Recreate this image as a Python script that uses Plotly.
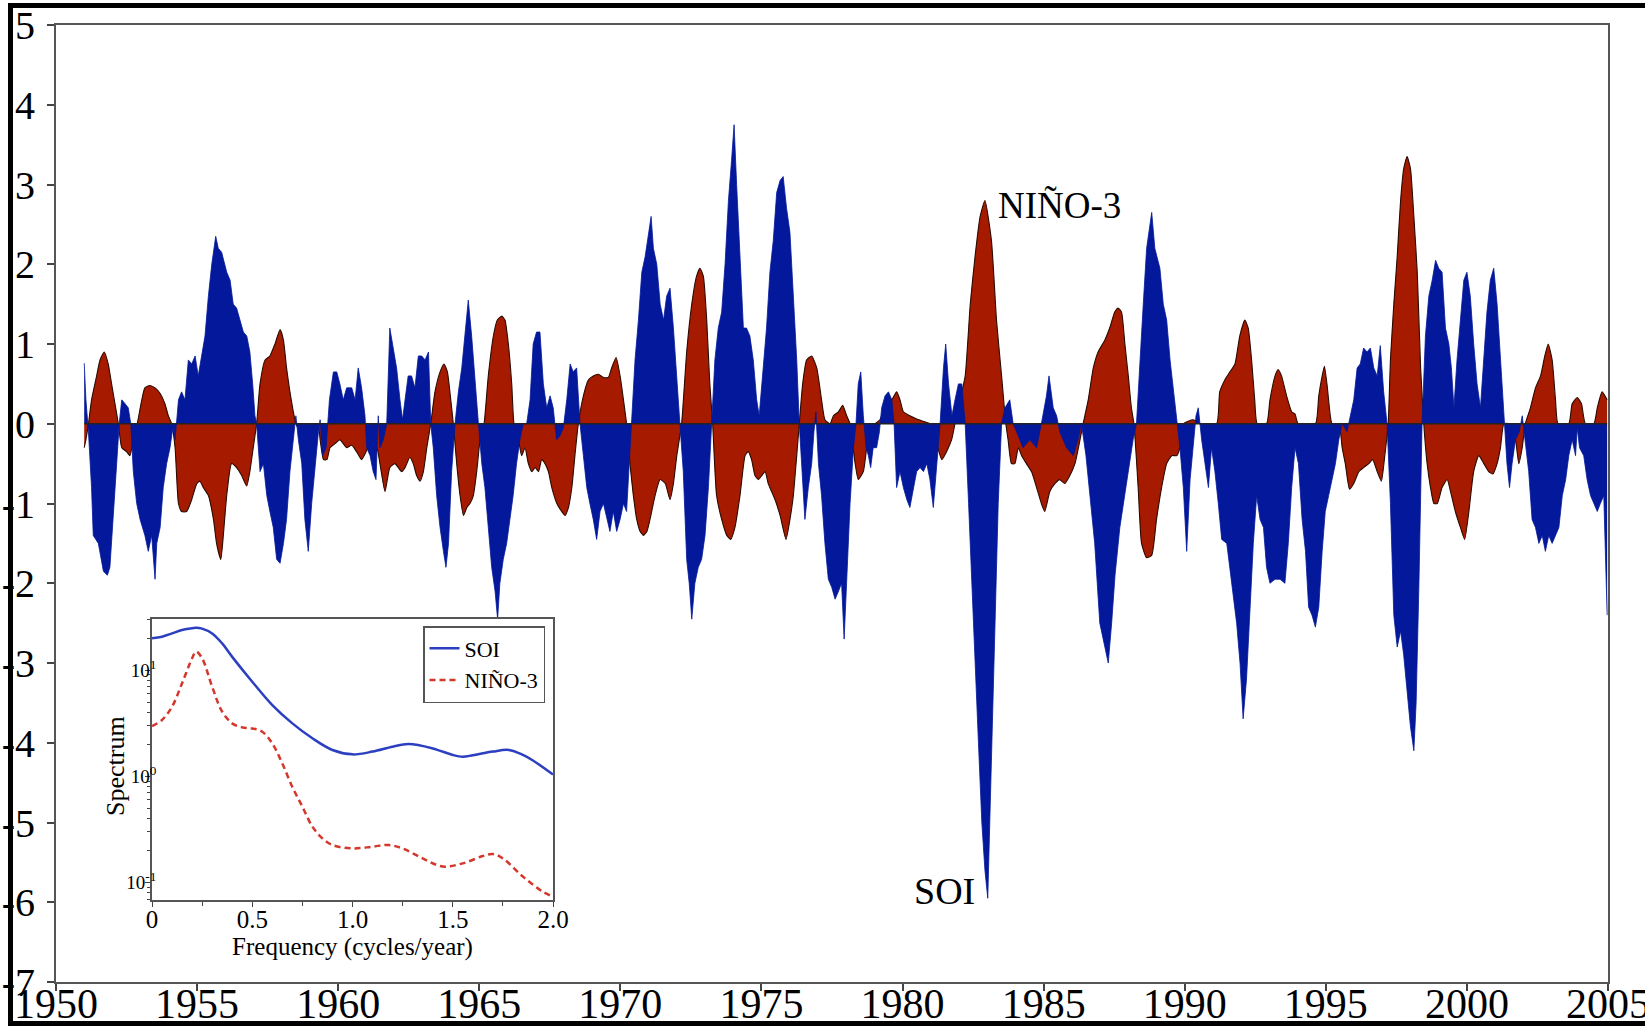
import plotly.graph_objects as go

# ---- SOI and NINO-3 anomaly series (decimal year, standardized value) ----
soi_year = [
    1951.00, 1951.06, 1951.15, 1951.26, 1951.32, 1951.50, 1951.68, 1951.82, 1951.91, 1952.03,
    1952.15, 1952.24, 1952.33, 1952.45, 1952.56, 1952.65, 1952.74, 1952.86, 1952.98, 1953.15,
    1953.27, 1953.39, 1953.51, 1953.57, 1953.69, 1953.80, 1953.92, 1954.04, 1954.16, 1954.22,
    1954.34, 1954.45, 1954.57, 1954.69, 1954.81, 1954.93, 1955.04, 1955.16, 1955.28, 1955.40,
    1955.52, 1955.66, 1955.75, 1955.87, 1956.05, 1956.17, 1956.28, 1956.40, 1956.52, 1956.64,
    1956.76, 1956.87, 1956.97, 1957.05, 1957.11, 1957.23, 1957.35, 1957.47, 1957.58, 1957.70,
    1957.82, 1957.94, 1958.06, 1958.17, 1958.29, 1958.41, 1958.50, 1958.59, 1958.71, 1958.82,
    1958.94, 1959.06, 1959.18, 1959.30, 1959.36, 1959.45, 1959.57, 1959.69, 1959.83, 1959.95,
    1960.06, 1960.18, 1960.30, 1960.48, 1960.60, 1960.71, 1960.83, 1960.95, 1961.01, 1961.13,
    1961.24, 1961.34, 1961.42, 1961.48, 1961.60, 1961.72, 1961.83, 1961.95, 1962.07, 1962.19,
    1962.28, 1962.37, 1962.48, 1962.60, 1962.72, 1962.84, 1962.96, 1963.08, 1963.20, 1963.28,
    1963.37, 1963.49, 1963.61, 1963.73, 1963.82, 1963.91, 1964.02, 1964.14, 1964.26, 1964.38,
    1964.49, 1964.61, 1964.73, 1964.85, 1964.97, 1965.09, 1965.20, 1965.32, 1965.44, 1965.56,
    1965.65, 1965.73, 1965.85, 1965.97, 1966.09, 1966.20, 1966.32, 1966.44, 1966.56, 1966.68,
    1966.80, 1966.91, 1967.03, 1967.15, 1967.27, 1967.39, 1967.51, 1967.62, 1967.74, 1967.86,
    1967.98, 1968.10, 1968.22, 1968.33, 1968.45, 1968.57, 1968.69, 1968.81, 1968.92, 1969.04,
    1969.16, 1969.28, 1969.40, 1969.52, 1969.63, 1969.75, 1969.87, 1969.99, 1970.11, 1970.22,
    1970.34, 1970.40, 1970.52, 1970.64, 1970.76, 1970.88, 1970.99, 1971.09, 1971.17, 1971.29,
    1971.41, 1971.53, 1971.64, 1971.76, 1971.88, 1972.00, 1972.11, 1972.23, 1972.35, 1972.44,
    1972.53, 1972.64, 1972.76, 1972.88, 1973.00, 1973.12, 1973.23, 1973.35, 1973.47, 1973.59,
    1973.71, 1973.83, 1973.94, 1974.03, 1974.12, 1974.24, 1974.36, 1974.47, 1974.59, 1974.71,
    1974.83, 1974.92, 1975.04, 1975.18, 1975.30, 1975.42, 1975.54, 1975.66, 1975.77, 1975.89,
    1976.01, 1976.13, 1976.25, 1976.34, 1976.43, 1976.54, 1976.66, 1976.78, 1976.86, 1976.93,
    1977.02, 1977.13, 1977.25, 1977.37, 1977.49, 1977.61, 1977.73, 1977.84, 1977.93, 1978.02,
    1978.14, 1978.26, 1978.35, 1978.43, 1978.52, 1978.61, 1978.71, 1978.79, 1978.87, 1978.96,
    1979.08, 1979.18, 1979.26, 1979.38, 1979.50, 1979.62, 1979.70, 1979.79, 1979.91, 1980.03,
    1980.15, 1980.26, 1980.38, 1980.50, 1980.62, 1980.74, 1980.86, 1980.97, 1981.09, 1981.21,
    1981.33, 1981.45, 1981.53, 1981.63, 1981.75, 1981.86, 1981.98, 1982.10, 1982.22, 1982.34,
    1982.45, 1982.57, 1982.69, 1982.81, 1982.92, 1983.02, 1983.21, 1983.39, 1983.51, 1983.63,
    1983.80, 1983.92, 1984.04, 1984.27, 1984.51, 1984.75, 1984.92, 1985.10, 1985.19, 1985.34,
    1985.46, 1985.57, 1985.81, 1986.05, 1986.22, 1986.34, 1986.50, 1986.64, 1986.81, 1986.99,
    1987.11, 1987.29, 1987.41, 1987.53, 1987.70, 1987.88, 1988.06, 1988.17, 1988.29, 1988.41,
    1988.53, 1988.65, 1988.83, 1988.94, 1989.12, 1989.24, 1989.36, 1989.48, 1989.60, 1989.72,
    1989.83, 1989.95, 1990.07, 1990.19, 1990.31, 1990.40, 1990.48, 1990.60, 1990.72, 1990.84,
    1990.95, 1991.07, 1991.19, 1991.31, 1991.49, 1991.66, 1991.84, 1991.96, 1992.07, 1992.19,
    1992.31, 1992.43, 1992.55, 1992.67, 1992.79, 1992.90, 1993.02, 1993.20, 1993.38, 1993.55,
    1993.67, 1993.79, 1993.91, 1994.03, 1994.16, 1994.28, 1994.39, 1994.51, 1994.63, 1994.75,
    1994.87, 1994.98, 1995.10, 1995.22, 1995.34, 1995.46, 1995.58, 1995.75, 1995.99, 1996.11,
    1996.22, 1996.34, 1996.46, 1996.58, 1996.70, 1996.82, 1996.93, 1997.05, 1997.17, 1997.29,
    1997.41, 1997.53, 1997.65, 1997.76, 1997.88, 1998.00, 1998.12, 1998.20, 1998.30, 1998.41,
    1998.53, 1998.65, 1998.77, 1998.89, 1999.00, 1999.12, 1999.24, 1999.36, 1999.45, 1999.54,
    1999.65, 1999.77, 1999.89, 2000.00, 2000.12, 2000.24, 2000.36, 2000.48, 2000.60, 2000.71,
    2000.83, 2000.95, 2001.07, 2001.19, 2001.31, 2001.42, 2001.51, 2001.60, 2001.72, 2001.86,
    2001.96, 2002.07, 2002.19, 2002.31, 2002.43, 2002.55, 2002.67, 2002.78, 2002.90, 2003.02,
    2003.14, 2003.26, 2003.38, 2003.50, 2003.61, 2003.73, 2003.85, 2003.91, 2003.99, 2004.14,
    2004.26, 2004.38, 2004.50, 2004.62, 2004.73, 2004.85, 2004.97,
]
soi_value = [
    0.76, 0.30, -0.10, -0.80, -1.40, -1.50, -1.85, -1.90, -1.80, -1.20,
    -0.50, 0.00, 0.30, 0.25, 0.20, 0.00, -0.60, -1.00, -1.20, -1.40,
    -1.60, -1.40, -1.95, -1.50, -1.30, -0.80, -0.50, -0.30, 0.00, -0.20,
    0.30, 0.40, 0.30, 0.80, 0.75, 0.85, 0.60, 0.85, 1.10, 1.60,
    2.00, 2.35, 2.20, 2.15, 1.90, 1.80, 1.50, 1.45, 1.30, 1.15,
    1.10, 0.90, 0.50, 0.10, 0.00, -0.60, -0.50, -0.90, -1.10, -1.30,
    -1.70, -1.75, -1.50, -1.20, -0.60, -0.20, 0.10, -0.20, -0.50, -1.20,
    -1.60, -1.00, -0.50, -0.10, 0.05, -0.40, -0.30, 0.30, 0.65, 0.65,
    0.50, 0.30, 0.45, 0.45, 0.30, 0.70, 0.45, 0.10, -0.30, -0.40,
    -0.60, -0.70, 0.10, -0.30, -0.20, 0.00, 1.20, 0.95, 0.70, 0.30,
    0.05, 0.30, 0.60, 0.60, 0.45, 0.85, 0.85, 0.80, 0.90, 0.00,
    -0.30, -0.90, -1.30, -1.60, -1.80, -1.50, -0.60, 0.00, 0.40, 0.70,
    1.10, 1.55, 1.10, 0.50, 0.00, -0.50, -0.80, -1.30, -1.80, -2.10,
    -2.45, -2.00, -1.70, -1.50, -1.20, -0.90, -0.50, -0.20, 0.00, 0.00,
    0.30, 1.00, 1.15, 1.15, 0.50, 0.20, 0.35, 0.20, -0.20, -0.15,
    -0.05, 0.30, 0.75, 0.65, 0.70, 0.00, -0.40, -0.80, -1.00, -1.20,
    -1.45, -1.10, -1.00, -1.20, -1.35, -1.10, -1.35, -1.20, -1.00, -1.10,
    -0.30, 0.00, 0.80, 1.30, 1.90, 2.10, 2.40, 2.60, 2.20, 2.00,
    1.50, 1.30, 1.60, 1.70, 1.20, 0.50, 0.00, -0.60, -1.70, -2.00,
    -2.45, -2.00, -1.80, -1.70, -1.40, -0.80, 0.00, 0.80, 1.20, 1.40,
    2.00, 2.80, 3.30, 3.75, 3.00, 2.00, 1.20, 1.20, 1.10, 0.80,
    0.30, 0.10, 0.60, 1.20, 1.90, 2.30, 2.90, 3.05, 3.10, 2.70,
    2.40, 1.60, 0.80, 0.00, -0.60, -1.20, -0.80, -0.50, -0.10, 0.15,
    -0.50, -0.90, -1.50, -1.95, -2.05, -2.20, -2.10, -2.00, -2.70, -2.00,
    -1.00, -0.30, 0.00, 0.50, 0.65, 0.10, -0.30, -0.40, -0.55, -0.30,
    -0.30, -0.10, 0.20, 0.35, 0.40, 0.30, 0.00, -0.80, -0.60, -0.80,
    -0.95, -1.05, -0.80, -0.60, -0.55, -0.60, -0.50, -0.70, -1.05, -0.50,
    0.00, 0.70, 1.00, 0.50, 0.10, 0.30, 0.50, 0.50, 0.00, -1.00,
    -2.00, -3.00, -4.00, -5.00, -5.60, -5.95, -3.50, -1.00, 0.00, 0.20,
    0.30, 0.00, -0.10, -0.30, -0.20, -0.30, 0.00, 0.35, 0.60, 0.20,
    0.10, -0.10, -0.30, -0.40, -0.20, 0.00, -0.40, -0.90, -1.50, -2.50,
    -2.70, -3.00, -2.50, -1.90, -1.30, -0.90, -0.50, -0.20, 0.00, 0.80,
    1.50, 2.20, 2.65, 2.20, 1.95, 1.50, 1.30, 0.80, 0.40, 0.00,
    -0.30, -0.80, -1.60, -0.70, -0.20, 0.10, 0.20, -0.20, -0.50, -0.80,
    -0.30, -0.60, -1.00, -1.45, -1.50, -2.00, -2.50, -3.00, -3.70, -3.20,
    -2.30, -1.50, -0.90, -1.20, -1.30, -1.80, -2.00, -1.95, -1.95, -2.00,
    -1.50, -0.80, -0.30, -0.50, -1.20, -1.60, -2.30, -2.40, -2.55, -2.30,
    -1.60, -1.10, -0.90, -0.70, -0.50, -0.20, 0.00, -0.10, 0.30, 0.70,
    0.75, 0.95, 0.90, 0.95, 0.70, 0.60, 0.98, 0.40, 0.00, -1.00,
    -2.40, -2.80, -2.60, -2.90, -3.40, -3.80, -4.10, -3.50, -2.00, 0.00,
    1.10, 1.60, 1.80, 2.05, 1.95, 1.90, 1.20, 1.00, 0.70, 0.20,
    0.80, 1.30, 1.80, 1.90, 1.60, 1.00, 0.50, 0.20, 0.90, 1.40,
    1.80, 1.95, 1.50, 0.80, 0.00, -0.50, -0.80, -0.50, -0.20, -0.10,
    0.10, -0.20, -0.60, -1.20, -1.30, -1.50, -1.40, -1.60, -1.40, -1.50,
    -1.40, -1.30, -0.90, -0.70, -0.40, -0.20, -0.40, -0.05, -0.30, -0.40,
    -0.70, -0.90, -1.00, -1.10, -1.00, -0.90, -2.40,
]

nino3_year = [
    1951.00, 1951.06, 1951.15, 1951.26, 1951.44, 1951.56, 1951.71, 1951.85, 1951.97, 1952.09,
    1952.21, 1952.33, 1952.50, 1952.62, 1952.74, 1952.88, 1953.04, 1953.15, 1953.33, 1953.51,
    1953.69, 1953.86, 1953.98, 1954.10, 1954.22, 1954.34, 1954.45, 1954.63, 1954.81, 1954.99,
    1955.10, 1955.22, 1955.40, 1955.58, 1955.69, 1955.84, 1955.93, 1956.05, 1956.22, 1956.40,
    1956.58, 1956.76, 1956.87, 1956.99, 1957.11, 1957.23, 1957.41, 1957.58, 1957.76, 1957.94,
    1958.06, 1958.17, 1958.29, 1958.41, 1958.50, 1958.59, 1958.95, 1959.30, 1959.36, 1959.48,
    1959.60, 1959.71, 1959.89, 1960.06, 1960.18, 1960.30, 1960.48, 1960.65, 1960.83, 1960.95,
    1961.13, 1961.37, 1961.48, 1961.66, 1961.83, 1962.01, 1962.13, 1962.25, 1962.37, 1962.54,
    1962.66, 1962.78, 1962.90, 1963.02, 1963.14, 1963.28, 1963.43, 1963.61, 1963.75, 1963.87,
    1963.99, 1964.08, 1964.20, 1964.32, 1964.44, 1964.56, 1964.67, 1964.79, 1964.91, 1965.03,
    1965.17, 1965.32, 1965.50, 1965.64, 1965.80, 1965.91, 1966.03, 1966.15, 1966.23, 1966.39,
    1966.50, 1966.62, 1966.74, 1966.86, 1966.98, 1967.10, 1967.21, 1967.33, 1967.45, 1967.57,
    1967.75, 1967.92, 1968.04, 1968.16, 1968.28, 1968.39, 1968.51, 1968.69, 1968.87, 1969.04,
    1969.22, 1969.40, 1969.57, 1969.69, 1969.85, 1969.99, 1970.11, 1970.22, 1970.34, 1970.46,
    1970.58, 1970.70, 1970.82, 1970.94, 1971.05, 1971.23, 1971.41, 1971.59, 1971.76, 1971.88,
    1972.00, 1972.17, 1972.35, 1972.53, 1972.70, 1972.82, 1972.94, 1973.06, 1973.17, 1973.27,
    1973.41, 1973.59, 1973.77, 1973.91, 1974.06, 1974.24, 1974.42, 1974.53, 1974.65, 1974.77,
    1974.89, 1975.01, 1975.13, 1975.24, 1975.36, 1975.48, 1975.66, 1975.87, 1976.01, 1976.13,
    1976.25, 1976.34, 1976.46, 1976.60, 1976.78, 1976.96, 1977.13, 1977.25, 1977.43, 1977.55,
    1977.73, 1977.88, 1978.02, 1978.14, 1978.32, 1978.43, 1978.61, 1978.73, 1978.85, 1979.02,
    1979.20, 1979.44, 1979.62, 1979.79, 1979.91, 1980.03, 1980.26, 1980.50, 1980.74, 1980.97,
    1981.21, 1981.39, 1981.56, 1981.74, 1981.86, 1982.04, 1982.22, 1982.40, 1982.57, 1982.75,
    1982.92, 1983.15, 1983.33, 1983.51, 1983.66, 1983.74, 1983.86, 1983.98, 1984.10, 1984.22,
    1984.39, 1984.57, 1984.75, 1984.92, 1985.04, 1985.22, 1985.40, 1985.57, 1985.75, 1985.93,
    1986.11, 1986.29, 1986.40, 1986.58, 1986.76, 1986.93, 1987.17, 1987.34, 1987.52, 1987.64,
    1987.76, 1987.88, 1988.00, 1988.11, 1988.20, 1988.35, 1988.47, 1988.65, 1988.83, 1989.00,
    1989.18, 1989.36, 1989.54, 1989.72, 1989.83, 1989.95, 1990.30, 1990.54, 1991.13, 1991.24,
    1991.42, 1991.60, 1991.78, 1991.95, 1992.13, 1992.25, 1992.37, 1992.48, 1992.57, 1992.90,
    1993.02, 1993.20, 1993.31, 1993.43, 1993.61, 1993.79, 1993.91, 1994.02, 1994.63, 1994.75,
    1994.87, 1994.95, 1995.04, 1995.16, 1995.22, 1995.46, 1995.58, 1995.69, 1995.84, 1995.99,
    1996.17, 1996.34, 1996.52, 1996.66, 1996.82, 1996.97, 1997.09, 1997.21, 1997.29, 1997.41,
    1997.53, 1997.65, 1997.76, 1997.88, 1998.00, 1998.12, 1998.24, 1998.36, 1998.47, 1998.59,
    1998.71, 1998.83, 1998.95, 1999.12, 1999.30, 1999.42, 1999.59, 1999.77, 1999.92, 2000.07,
    2000.24, 2000.42, 2000.60, 2000.77, 2000.92, 2001.07, 2001.19, 2001.31, 2001.49, 2001.72,
    2001.84, 2001.96, 2002.07, 2002.25, 2002.43, 2002.61, 2002.76, 2002.88, 2003.02, 2003.14,
    2003.23, 2003.61, 2003.73, 2003.91, 2004.06, 2004.20, 2004.50, 2004.62, 2004.79, 2004.97,
]
nino3_value = [
    -0.30, -0.20, 0.00, 0.30, 0.60, 0.80, 0.90, 0.75, 0.50, 0.25,
    0.00, -0.30, -0.35, -0.40, -0.20, 0.00, 0.30, 0.45, 0.48, 0.45,
    0.38, 0.25, 0.10, 0.00, -0.30, -1.00, -1.10, -1.10, -0.95, -0.75,
    -0.72, -0.80, -0.90, -1.20, -1.50, -1.70, -1.40, -0.90, -0.50, -0.55,
    -0.65, -0.78, -0.60, -0.30, 0.00, 0.50, 0.80, 0.85, 1.00, 1.18,
    1.05, 0.70, 0.40, 0.15, 0.00, -0.05, -0.05, -0.05, -0.20, -0.45,
    -0.45, -0.30, -0.25, -0.20, -0.25, -0.30, -0.27, -0.35, -0.45, -0.38,
    -0.25, -0.30, -0.50, -0.85, -0.55, -0.50, -0.55, -0.60, -0.55, -0.42,
    -0.50, -0.65, -0.72, -0.60, -0.30, 0.00, 0.40, 0.65, 0.75, 0.65,
    0.30, 0.00, -0.50, -0.90, -1.15, -1.05, -1.00, -0.90, -0.60, -0.20,
    0.00, 0.60, 1.10, 1.30, 1.35, 1.30, 1.00, 0.50, 0.00, -0.20,
    -0.40, -0.30, -0.50, -0.60, -0.55, -0.60, -0.45, -0.50, -0.60, -0.80,
    -1.00, -1.10, -1.15, -1.05, -0.80, -0.40, 0.00, 0.35, 0.55, 0.60,
    0.62, 0.58, 0.58, 0.70, 0.83, 0.60, 0.30, 0.00, -0.50, -0.90,
    -1.20, -1.35, -1.40, -1.35, -1.20, -0.90, -0.70, -0.75, -0.95, -0.75,
    -0.40, 0.00, 0.90, 1.50, 1.85, 1.95, 1.85, 1.30, 0.50, 0.00,
    -0.90, -1.20, -1.40, -1.45, -1.30, -0.90, -0.40, -0.35, -0.45, -0.65,
    -0.70, -0.65, -0.60, -0.75, -0.85, -0.95, -1.15, -1.45, -1.20, -0.90,
    -0.40, 0.00, 0.50, 0.80, 0.85, 0.70, 0.30, 0.05, 0.00, 0.10,
    0.15, 0.23, 0.10, 0.00, -0.50, -0.70, -0.60, -0.30, -0.05, 0.00,
    0.05, 0.25, 0.30, 0.40, 0.30, 0.15, 0.10, 0.06, 0.03, 0.00,
    -0.25, -0.45, -0.35, -0.20, 0.00, 0.30, 0.60, 1.50, 2.10, 2.60,
    2.80, 2.30, 1.30, 0.60, 0.00, -0.20, -0.50, -0.50, -0.30, -0.40,
    -0.50, -0.60, -0.80, -1.00, -1.10, -0.85, -0.75, -0.70, -0.75, -0.65,
    -0.50, -0.20, 0.00, 0.30, 0.70, 0.90, 1.05, 1.20, 1.40, 1.45,
    1.40, 1.00, 0.60, 0.20, 0.00, -0.80, -1.50, -1.68, -1.65, -1.20,
    -0.80, -0.50, -0.40, -0.40, -0.30, 0.00, 0.05, 0.00, 0.00, 0.40,
    0.55, 0.65, 0.75, 1.10, 1.30, 1.20, 0.80, 0.30, 0.00, 0.00,
    0.30, 0.60, 0.68, 0.60, 0.35, 0.15, 0.12, 0.00, 0.00, 0.35,
    0.60, 0.72, 0.50, 0.10, 0.00, 0.00, -0.30, -0.50, -0.82, -0.75,
    -0.60, -0.55, -0.50, -0.45, -0.60, -0.72, -0.40, 0.00, 0.80, 1.50,
    2.10, 2.80, 3.20, 3.35, 3.20, 2.60, 1.90, 0.70, 0.00, -0.50,
    -0.80, -1.00, -1.00, -0.80, -0.70, -0.85, -1.10, -1.30, -1.45, -1.10,
    -0.60, -0.40, -0.50, -0.60, -0.63, -0.50, -0.30, 0.00, 0.00, -0.20,
    -0.50, -0.30, 0.00, 0.20, 0.45, 0.60, 0.85, 1.00, 0.80, 0.30,
    0.00, 0.00, 0.25, 0.33, 0.25, 0.00, 0.00, 0.20, 0.40, 0.30,
]

# ---- power spectra for the inset ----
soi_freq = [0.0, 0.05, 0.10, 0.15, 0.20, 0.22, 0.25, 0.30, 0.35, 0.40, 0.50, 0.60, 0.70, 0.80,
            0.90, 1.00, 1.10, 1.20, 1.28, 1.40, 1.50, 1.55, 1.60, 1.70, 1.78, 1.85, 1.90, 2.00]
soi_spectrum = [19.9, 20.6, 22.1, 23.8, 24.7, 25.0, 24.5, 22.1, 17.8, 13.3, 7.76, 4.68, 3.15, 2.28,
                1.77, 1.61, 1.71, 1.90, 2.01, 1.83, 1.59, 1.53, 1.58, 1.71, 1.77, 1.59, 1.41, 1.04]
nino3_freq = [0.0, 0.05, 0.10, 0.15, 0.20, 0.22, 0.25, 0.30, 0.35, 0.40, 0.45, 0.50, 0.55, 0.60,
              0.65, 0.70, 0.75, 0.80, 0.85, 0.90, 1.00, 1.10, 1.18, 1.25, 1.35, 1.45, 1.55, 1.65,
              1.70, 1.75, 1.85, 1.95, 2.00]
nino3_spectrum = [2.97, 3.39, 4.52, 7.50, 12.9, 14.9, 12.9, 6.97, 4.06, 3.15, 2.89, 2.82, 2.63, 2.04,
                  1.32, 0.794, 0.519, 0.337, 0.261, 0.226, 0.210, 0.218, 0.226, 0.210, 0.169, 0.142,
                  0.152, 0.178, 0.186, 0.169, 0.114, 0.082, 0.074]

# ---- axis ticks ----
year_ticks = list(range(1950, 2006, 5))
value_ticks = list(range(-7, 6))
freq_ticks = [0, 0.5, 1.0, 1.5, 2.0]
freq_tick_labels = ["0", "0.5", "1.0", "1.5", "2.0"]
spectrum_ticks = [0.1, 1, 10]
spectrum_tick_labels = ["10<sup>-1</sup>", "10<sup>0</sup>", "10<sup>1</sup>"]

# ---- page geometry (pixels) ----
W, H = 1645, 1026
L, R, T, B = 56, 1608, 25, 982
SERIF = "Liberation Serif, Times New Roman, serif"
BLUE_FILL = "#03189A"
RED_FILL = "#A61A00"


def px_x(px):
    return (px - L) / (R - L)


def px_y(py):
    return (B - py) / (B - T)


spec_range = [-1.163, 1.48]

fig = go.Figure()

# main panel: NINO-3 first, SOI drawn over it
fig.add_trace(go.Scatter(
    x=nino3_year, y=nino3_value, mode="lines", fill="tozeroy",
    fillcolor=RED_FILL, line=dict(color="#2b0a00", width=1.1, shape="spline", smoothing=0.5),
    showlegend=False, hoverinfo="skip"))
fig.add_trace(go.Scatter(
    x=soi_year, y=soi_value, mode="lines", fill="tozeroy",
    fillcolor=BLUE_FILL, line=dict(color=BLUE_FILL, width=0.8),
    showlegend=False, hoverinfo="skip"))

# inset background so the spectra sit on white
bg_lo, bg_hi = 10 ** spec_range[0], 10 ** spec_range[1]
fig.add_trace(go.Scatter(
    x=[0, 2, 2, 0, 0], y=[bg_lo, bg_lo, bg_hi, bg_hi, bg_lo],
    xaxis="x2", yaxis="y2", mode="none", fill="toself", fillcolor="white",
    showlegend=False, hoverinfo="skip"))
fig.add_trace(go.Scatter(
    x=soi_freq, y=soi_spectrum, xaxis="x2", yaxis="y2", mode="lines", name="SOI",
    line=dict(color="#2B3FC0", width=2.5, shape="spline")))
fig.add_trace(go.Scatter(
    x=nino3_freq, y=nino3_spectrum, xaxis="x2", yaxis="y2", mode="lines", name="NIÑO-3",
    line=dict(color="#D4372C", width=2.5, dash="6px,4px", shape="spline")))

axis_line = dict(showline=True, linecolor="#555555", mirror=True, showgrid=False,
                 zeroline=False, automargin=False)

fig.update_layout(
    width=W, height=H,
    margin=dict(l=L, r=W - R, t=T, b=H - B, autoexpand=False),
    paper_bgcolor="white", plot_bgcolor="white",
    font=dict(family=SERIF, color="black"),
    xaxis=dict(
        range=[1950, 2005], tickmode="array", tickvals=year_ticks,
        ticktext=[str(v) for v in year_ticks], ticks="outside", ticklen=7, tickwidth=1.5,
        tickcolor="#444444", linewidth=2, tickfont=dict(size=42, family=SERIF),
        ticklabelstandoff=-23, ticklabeloverflow="allow", **axis_line),
    yaxis=dict(
        range=[-7, 5], tickmode="array", tickvals=value_ticks,
        ticktext=[str(v) for v in value_ticks], ticks="outside", ticklen=7, tickwidth=1.5,
        tickcolor="#444444", linewidth=2, tickfont=dict(size=40, family=SERIF),
        ticklabelstandoff=4, ticklabeloverflow="allow", **axis_line),
    xaxis2=dict(
        domain=[px_x(152), px_x(553)], anchor="y2", range=[0, 2],
        tickmode="array", tickvals=freq_ticks, ticktext=freq_tick_labels,
        ticks="outside", ticklen=5, tickwidth=1.2, tickcolor="#444444", linewidth=1.5,
        minor=dict(tickvals=[0.25, 0.75, 1.25, 1.75], ticks="outside", ticklen=4,
                   tickcolor="#444444", tickwidth=1),
        tickfont=dict(size=25, family=SERIF), ticklabelstandoff=-9,
        title=dict(text="Frequency (cycles/year)", font=dict(size=25, family=SERIF), standoff=0),
        **axis_line),
    yaxis2=dict(
        domain=[px_y(900), px_y(619)], anchor="x2", type="log", range=spec_range,
        tickmode="array", tickvals=spectrum_ticks, ticktext=spectrum_tick_labels,
        ticks="outside", ticklen=5, tickwidth=1.2, tickcolor="#444444", linewidth=1.5,
        minor=dict(tickvals=[k * 10 ** d for d in (-2, -1, 0, 1) for k in range(2, 10)],
                   ticks="outside", ticklen=3, tickcolor="#444444", tickwidth=1),
        tickfont=dict(size=19, family=SERIF), ticklabelstandoff=-15,
        **axis_line),
    legend=dict(
        x=px_x(545), y=px_y(626), xanchor="right", yanchor="top",
        bgcolor="white", bordercolor="#555555", borderwidth=1.5,
        font=dict(size=22, family=SERIF), tracegroupgap=0),
    showlegend=True,
)

# inset y-axis label, set close to the tick labels
fig.add_annotation(xref="paper", yref="paper", x=px_x(116), y=px_y(766),
                   text="Spectrum", textangle=-90, showarrow=False,
                   xanchor="center", yanchor="middle",
                   font=dict(size=26, family=SERIF, color="black"))

# baseline along zero for the filled series
fig.add_shape(type="line", xref="x", yref="y",
              x0=min(soi_year), x1=max(soi_year), y0=0, y1=0,
              line=dict(color="#222222", width=1.5), layer="above")

# heavy black frame around the page (top, left, bottom edges)
frame = [
    (8, 3, W, 8),        # top
    (8, 3, 13, H),       # left
    (8, 1021, W, H),     # bottom
]
for x0, y0, x1, y1 in frame:
    fig.add_shape(type="rect", xref="paper", yref="paper",
                  x0=px_x(x0), x1=px_x(x1), y0=px_y(y1), y1=px_y(y0),
                  fillcolor="black", line=dict(width=0), layer="above")

fig.add_annotation(x=1983.3, y=2.74, xref="x", yref="y", text="NIÑO-3",
                   showarrow=False, xanchor="left", yanchor="middle",
                   font=dict(size=37, family=SERIF, color="black"))
fig.add_annotation(x=1981.5, y=-5.86, xref="x", yref="y", text="SOI",
                   showarrow=False, xanchor="center", yanchor="middle",
                   font=dict(size=38, family=SERIF, color="black"))

fig.write_html("out.html")
